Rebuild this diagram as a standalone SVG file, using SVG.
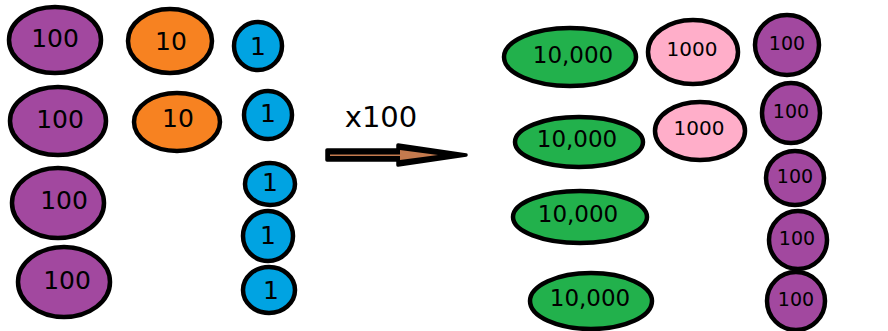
<svg xmlns="http://www.w3.org/2000/svg" width="888" height="331" viewBox="0 0 888 331">
<style>
.c{stroke:#000;stroke-width:4.5}
.p{fill:#a2489f}.o{fill:#f78221}.b{fill:#00a3e2}.g{fill:#22b14c}.k{fill:#ffaec9}
text{font-family:"DejaVu Sans","Liberation Sans",sans-serif;fill:#000;text-anchor:middle;dominant-baseline:central}
.t{font-size:25px}.s{font-size:19px}.m{font-size:23px}.q{font-size:20px}
</style>
<rect width="888" height="331" fill="#fff"/>
<g id="left-100-1"><ellipse class="c p" cx="55" cy="40" rx="46" ry="33"/><text class="t" x="55" y="38">100</text></g>
<g id="left-100-2"><ellipse class="c p" cx="58" cy="121" rx="48" ry="34"/><text class="t" x="60" y="119">100</text></g>
<g id="left-100-3"><ellipse class="c p" cx="58" cy="203" rx="46" ry="35"/><text class="t" x="64" y="200">100</text></g>
<g id="left-100-4"><ellipse class="c p" cx="64" cy="282" rx="46" ry="35"/><text class="t" x="67" y="280">100</text></g>
<g id="left-10-1"><ellipse class="c o" cx="170" cy="41" rx="42" ry="32"/><text class="t" x="171" y="41">10</text></g>
<g id="left-10-2"><ellipse class="c o" cx="177" cy="122" rx="43" ry="29"/><text class="t" x="178" y="118">10</text></g>
<g id="left-1-1"><ellipse class="c b" cx="258" cy="46" rx="24" ry="24"/><text class="t" x="258" y="46">1</text></g>
<g id="left-1-2"><ellipse class="c b" cx="268" cy="115" rx="24" ry="24"/><text class="t" x="268" y="113">1</text></g>
<g id="left-1-3"><ellipse class="c b" cx="270" cy="184" rx="25" ry="21"/><text class="t" x="270" y="182">1</text></g>
<g id="left-1-4"><ellipse class="c b" cx="268" cy="236" rx="25" ry="25"/><text class="t" x="268" y="235">1</text></g>
<g id="left-1-5"><ellipse class="c b" cx="269" cy="290" rx="26" ry="23"/><text class="t" x="271" y="290">1</text></g>
<g id="connectors">
<path d="M327,150 L398,150 L398,145 L466,155 L398,165 L398,160 L327,160 Z" fill="#000" stroke="#000" stroke-width="3.5" stroke-linejoin="round"/>
<path d="M330,154.5 L400,154.5 L400,150 L438,155 L400,160 L400,156 L330,156 Z" fill="#c47a4e"/>
<text x="381" y="117" font-size="29" style="font-family:'DejaVu Sans',sans-serif">x100</text>
</g>
<g id="right-10000-1"><ellipse class="c g" cx="570" cy="57" rx="66" ry="29"/><text class="m" x="573" y="55">10,000</text></g>
<g id="right-10000-2"><ellipse class="c g" cx="579" cy="142" rx="64" ry="25"/><text class="m" x="577" y="139">10,000</text></g>
<g id="right-10000-3"><ellipse class="c g" cx="580" cy="217" rx="67" ry="26"/><text class="m" x="578" y="214">10,000</text></g>
<g id="right-10000-4"><ellipse class="c g" cx="591" cy="301" rx="61" ry="28"/><text class="m" x="590" y="298">10,000</text></g>
<g id="right-1000-1"><ellipse class="c k" cx="693" cy="52" rx="45" ry="32"/><text class="q" x="692" y="49">1000</text></g>
<g id="right-1000-2"><ellipse class="c k" cx="700" cy="131" rx="45" ry="29"/><text class="q" x="699" y="128">1000</text></g>
<g id="right-100-1"><ellipse class="c p" cx="787" cy="45" rx="32" ry="30"/><text class="s" x="787" y="43">100</text></g>
<g id="right-100-2"><ellipse class="c p" cx="791" cy="113" rx="29" ry="30"/><text class="s" x="791" y="111">100</text></g>
<g id="right-100-3"><ellipse class="c p" cx="795" cy="178" rx="29" ry="27"/><text class="s" x="795" y="176">100</text></g>
<g id="right-100-4"><ellipse class="c p" cx="798" cy="240" rx="29" ry="29"/><text class="s" x="797" y="238">100</text></g>
<g id="right-100-5"><ellipse class="c p" cx="796" cy="301" rx="29" ry="29"/><text class="s" x="796" y="299">100</text></g>
</svg>
